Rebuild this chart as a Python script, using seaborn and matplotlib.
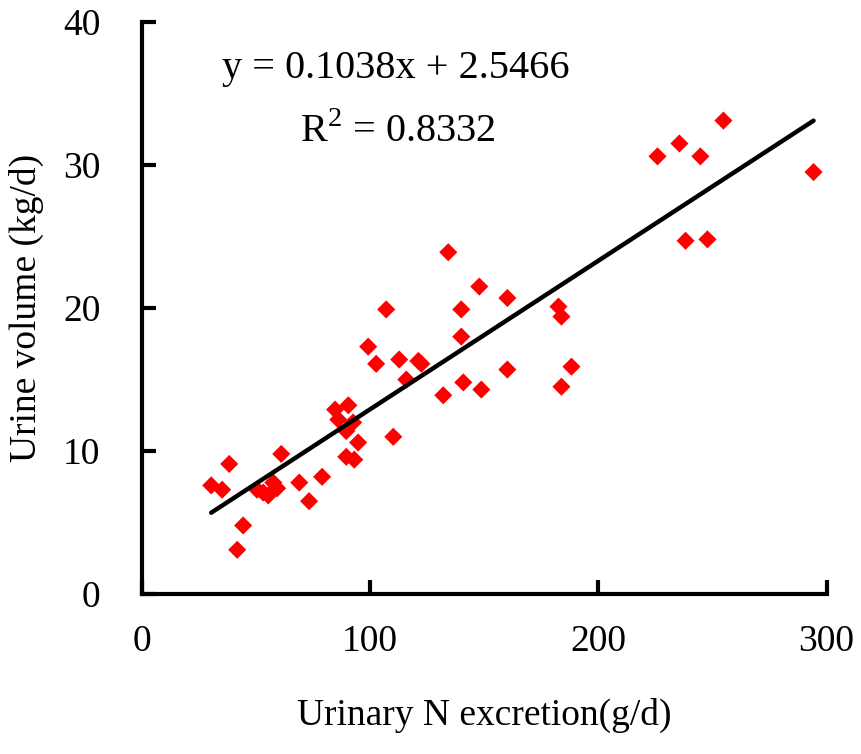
import matplotlib
matplotlib.use("Agg")
import matplotlib.pyplot as plt
import numpy as np
import pandas as pd
import seaborn as sns

# values
urinary_n = [30.3, 35.1, 38.2, 44.3, 41.7, 50.4, 53.1, 55.3, 57.5, 59.2,
             61.0, 68.9, 73.2, 78.9, 84.6, 86.0, 90.4, 92.5, 89.5, 89.5,
             93.0, 94.7, 99.1, 102.6, 107.0, 110.1, 112.7, 115.8, 121.1, 122.4,
             132.0, 134.2, 139.9, 139.9, 140.8, 147.8, 148.7, 160.1, 160.1, 182.5,
             183.8, 183.8, 188.2, 225.9, 235.5, 238.2, 244.7, 247.8, 254.8, 294.3]
urine_volume = [7.6, 7.3, 9.1, 4.8, 3.1, 7.3, 7.1, 6.9, 7.8, 7.4,
                9.8, 7.8, 6.5, 8.2, 12.9, 12.2, 13.2, 12.0, 11.4, 9.6,
                9.4, 10.6, 17.3, 16.1, 19.9, 11.0, 16.4, 15.0, 16.3, 16.1,
                13.9, 23.9, 19.9, 18.0, 14.8, 21.5, 14.3, 20.7, 15.7, 20.1,
                19.4, 14.5, 15.9, 30.6, 31.5, 24.7, 30.6, 24.8, 33.1, 29.5]
slope = 0.1038
intercept = 2.5466
r_squared = 0.8332

df = pd.DataFrame({"n": urinary_n, "vol": urine_volume})

sns.set_style("ticks")
plt.rcParams["font.family"] = ["Liberation Serif", "DejaVu Serif"]
plt.rcParams["mathtext.fontset"] = "custom"
plt.rcParams["mathtext.rm"] = "Liberation Serif"
for key in ["text.color", "axes.labelcolor", "xtick.color", "ytick.color"]:
    plt.rcParams[key] = "black"

fig = plt.figure(figsize=(8.61, 7.54), dpi=100)
ax = fig.add_axes([0.165, 0.212, 0.795, 0.759])

sns.scatterplot(data=df, x="n", y="vol", marker="D", s=85, color="#ff0000",
                edgecolor="none", ax=ax, zorder=2)

# trendline from the fitted equation shown on the chart
fit_x = np.array([min(urinary_n), max(urinary_n)])
ax.plot(fit_x, slope * fit_x + intercept, color="black", lw=3.2, zorder=3)

ax.set_xlim(0, 300)
ax.set_ylim(0, 40)
ax.set_xticks([0, 100, 200, 300])
ax.set_yticks([0, 10, 20, 30, 40])
ax.tick_params(direction="in", length=10, width=3, labelsize=27, pad=22,
               bottom=True, left=True, top=False, right=False)
ax.tick_params(axis="y", pad=30)
for side in ["top", "right"]:
    ax.spines[side].set_visible(False)
for side in ["left", "bottom"]:
    ax.spines[side].set_linewidth(3)
    ax.spines[side].set_color("black")

ax.set_xlabel("Urinary N excretion(g/d)", fontsize=27, labelpad=28)
ax.set_ylabel("Urine volume (kg/d)", fontsize=27, labelpad=14)

ax.text(0.117, 0.918, f"y = {slope}x + {intercept}", transform=ax.transAxes,
        fontsize=29, va="center", ha="left")
ax.text(0.231, 0.808, f"R$^2$ = {r_squared}", transform=ax.transAxes,
        fontsize=29, va="center", ha="left")

fig.savefig("out.png", dpi=100)
